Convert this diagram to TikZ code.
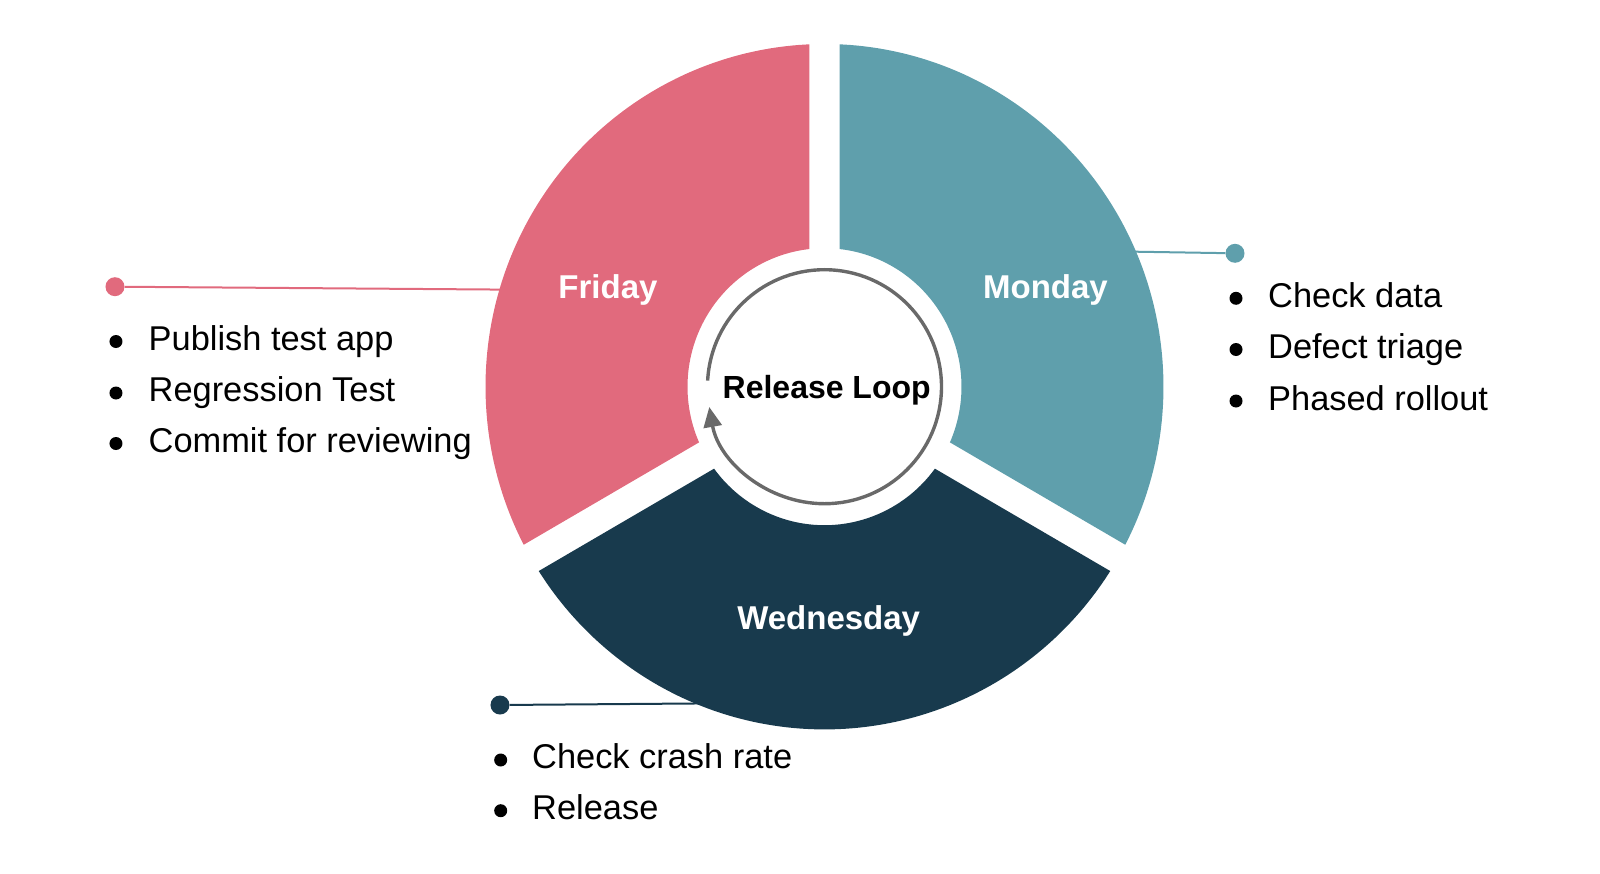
\documentclass[tikz,border=0pt]{standalone}
\usepackage{fontspec}
\setmainfont{Liberation Sans}
\usetikzlibrary{arrows.meta}
\definecolor{fricol}{HTML}{E16A7D}
\definecolor{moncol}{HTML}{5F9FAC}
\definecolor{wedcol}{HTML}{183A4D}
\definecolor{loopgray}{HTML}{696969}
\tikzset{
  daylabel/.style={anchor=base, inner sep=0pt, text=white, font=\fontsize{33}{38}\selectfont\bfseries},
  itemtext/.style={anchor=base west, inner sep=0pt, font=\fontsize{34.4}{40}\selectfont},
  bulletdot/.style={circle, fill=black, minimum size=13pt, inner sep=0pt},
  enddot/.style={circle, minimum size=19pt, inner sep=0pt},
  leader/.style={line width=2pt},
  loopline/.style={draw=loopgray, line width=3.4pt}
}
\begin{document}
\begin{tikzpicture}[x=1pt,y=1pt]
\useasboundingbox (-824.5,-486.3) rectangle (775.5,386.7);
% leader lines end points on the ring
\coordinate (fri-end) at (163.2:336);
\coordinate (mon-end) at (23.7:336);
\coordinate (wed-end) at (-118,-316.7);
% end dots
\node[enddot, fill=fricol] (fri-dot) at (-709.5,100) {};
\node[enddot, fill=moncol] (mon-dot) at (410.5,133.4) {};
\node[enddot, fill=wedcol] (wed-dot) at (-324.5,-318.3) {};
\draw[leader, draw=fricol] (fri-dot) -- (fri-end);
\draw[leader, draw=moncol] (mon-dot) -- (mon-end);
\draw[leader, draw=wedcol] (wed-dot) -- (wed-end);
% ring segments
\def\Ro{339}\def\Ri{137}
\def\dO{2.54}\def\dI{6.29}
\begin{scope}[yscale=1.011]
\foreach \a/\b/\col in {-30/90/moncol, 90/210/fricol, 210/330/wedcol}{
  \pgfmathsetmacro{\ao}{\a+\dO}
  \pgfmathsetmacro{\bo}{\b-\dO}
  \pgfmathsetmacro{\ai}{\a+\dI}
  \pgfmathsetmacro{\bi}{\b-\dI}
  \fill[\col] (\ai:\Ri) -- (\ao:\Ro) arc[start angle=\ao, end angle=\bo, radius=\Ro]
     -- (\bi:\Ri) arc[start angle=\bi, end angle=\ai, radius=\Ri] -- cycle;
}
\end{scope}
% day labels
\node[daylabel] (friday) at (-216.5,88.2) {Friday};
\node[daylabel] (monday) at (221,88.2) {Monday};
\node[daylabel] (wednesday) at (4.2,-242.8) {Wednesday};
% centre loop
\draw[loopline, -{Triangle[length=20pt, width=18pt]}] (177:117) arc[start angle=177, end angle=-170, radius=117];
\node[anchor=base, inner sep=0pt, font=\fontsize{32}{36}\selectfont\bfseries] (loop) at (2.2,-11.6) {Release Loop};
% Friday list
\node[bulletdot] (fb1) at (-708.5,45.2) {};
\node[bulletdot] (fb2) at (-708.5,-6.3) {};
\node[bulletdot] (fb3) at (-708.5,-56.8) {};
\node[itemtext] (fi1) at (-676,36.7) {Publish test app};
\node[itemtext] (fi2) at (-676,-14.8) {Regression Test};
\node[itemtext] (fi3) at (-676,-65.3) {Commit for reviewing};
% Monday list
\node[bulletdot] (mb1) at (411.5,88.4) {};
\node[bulletdot] (mb2) at (411.5,37.2) {};
\node[bulletdot] (mb3) at (411.5,-14.3) {};
\node[itemtext] (mi1) at (443.5,79.4) {Check data};
\node[itemtext] (mi2) at (443.5,28.2) {Defect triage};
\node[itemtext] (mi3) at (443.5,-23.3) {Phased rollout};
% Wednesday list
\node[bulletdot] (wb1) at (-323.8,-373.3) {};
\node[bulletdot] (wb2) at (-323.8,-424.0) {};
\node[itemtext] (wi1) at (-292.5,-381.6) {Check crash rate};
\node[itemtext] (wi2) at (-292.5,-432.3) {Release};
\end{tikzpicture}
\end{document}
